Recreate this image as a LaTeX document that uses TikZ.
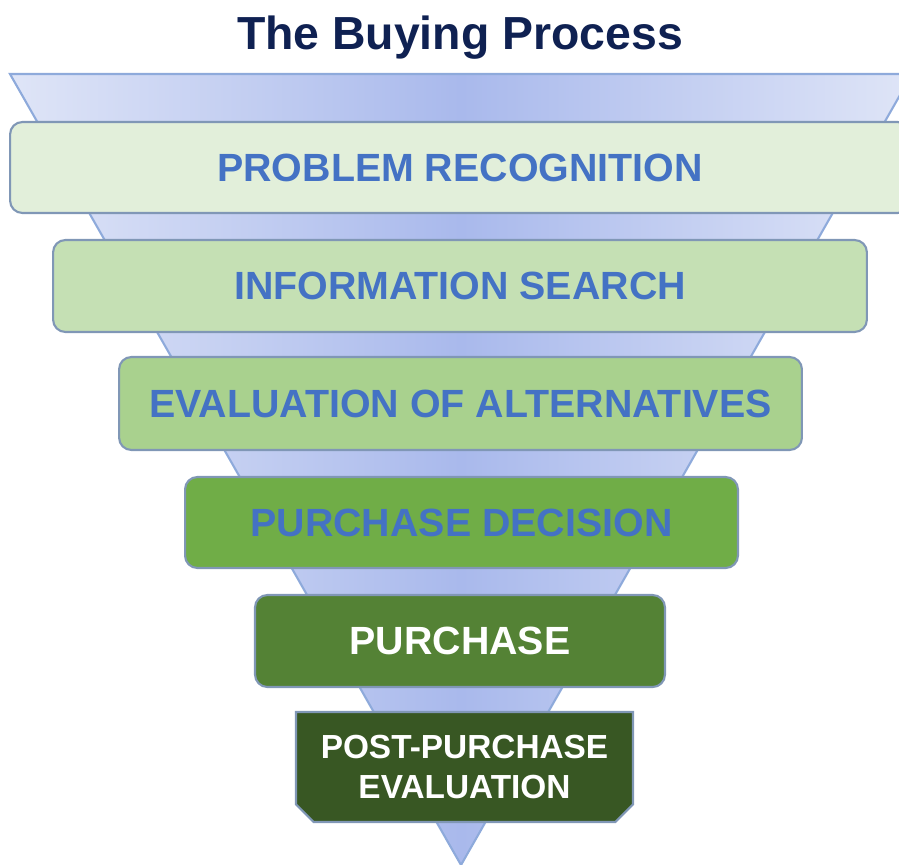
\documentclass[tikz,border=0pt]{standalone}
\usepackage{fontspec}
\setmainfont{Liberation Sans}
\usetikzlibrary{shapes.misc}

\definecolor{titleblue}{HTML}{0F2152}
\definecolor{funnelline}{HTML}{8EAADB}
\definecolor{funnellight}{HTML}{DFE5F7}
\definecolor{funneldark}{HTML}{A9B9EC}
\definecolor{stageline}{HTML}{8097B6}
\definecolor{stagetext}{HTML}{4472C4}
\definecolor{stageA}{HTML}{E2EFDA}
\definecolor{stageB}{HTML}{C5E0B4}
\definecolor{stageC}{HTML}{A9D18E}
\definecolor{stageD}{HTML}{70AD47}
\definecolor{stageE}{HTML}{548235}
\definecolor{stageF}{HTML}{385723}

\begin{document}
\begin{tikzpicture}[x=0.02cm, y=-0.02cm,
  stage/.style={draw=stageline, line width=1.2pt, rounded corners=7pt,
    inner sep=0pt, font=\bfseries\fontsize{22.4}{26}\selectfont}
]
\useasboundingbox (0,0) rectangle (899,865);
\clip (0,0) rectangle (899,865);

\node[anchor=base, text=titleblue, font=\bfseries\fontsize{26.4}{30}\selectfont] (title) at (460,50) {The Buying Process};

% funnel behind the stages
\shade[left color=funnellight, right color=funnellight, middle color=funneldark] (10,74) -- (912,74) -- (461,865) -- cycle;
\draw[funnelline, line width=1.2pt] (10,74) -- (912,74) -- (461,865) -- cycle;

\node[stage, fill=stageA, text=stagetext, minimum width=18cm, minimum height=1.82cm] (recognition) at (460,167.5) {PROBLEM RECOGNITION};
\node[stage, fill=stageB, text=stagetext, minimum width=16.28cm, minimum height=1.84cm] (search) at (460,286) {INFORMATION SEARCH};
\node[stage, fill=stageC, text=stagetext, minimum width=13.66cm, minimum height=1.86cm] (alternatives) at (460.5,403.5) {EVALUATION OF ALTERNATIVES};
\node[stage, fill=stageD, text=stagetext, minimum width=11.06cm, minimum height=1.82cm] (decision) at (461.5,522.5) {PURCHASE DECISION};
\node[stage, fill=stageE, text=white, minimum width=8.2cm, minimum height=1.84cm] (purchase) at (460,641) {PURCHASE};

% last stage has cut corners at the bottom
\node[draw=stageline, line width=1.2pt, fill=stageF, text=white, inner sep=0pt,
  chamfered rectangle, chamfered rectangle corners={south west, south east},
  chamfered rectangle xsep=5pt, chamfered rectangle ysep=5pt,
  minimum width=6.74cm, minimum height=2.2cm, align=center,
  font=\bfseries\fontsize{19}{22.8}\selectfont] (post) at (464.5,767) {POST-PURCHASE\\EVALUATION};

\end{tikzpicture}
\end{document}
